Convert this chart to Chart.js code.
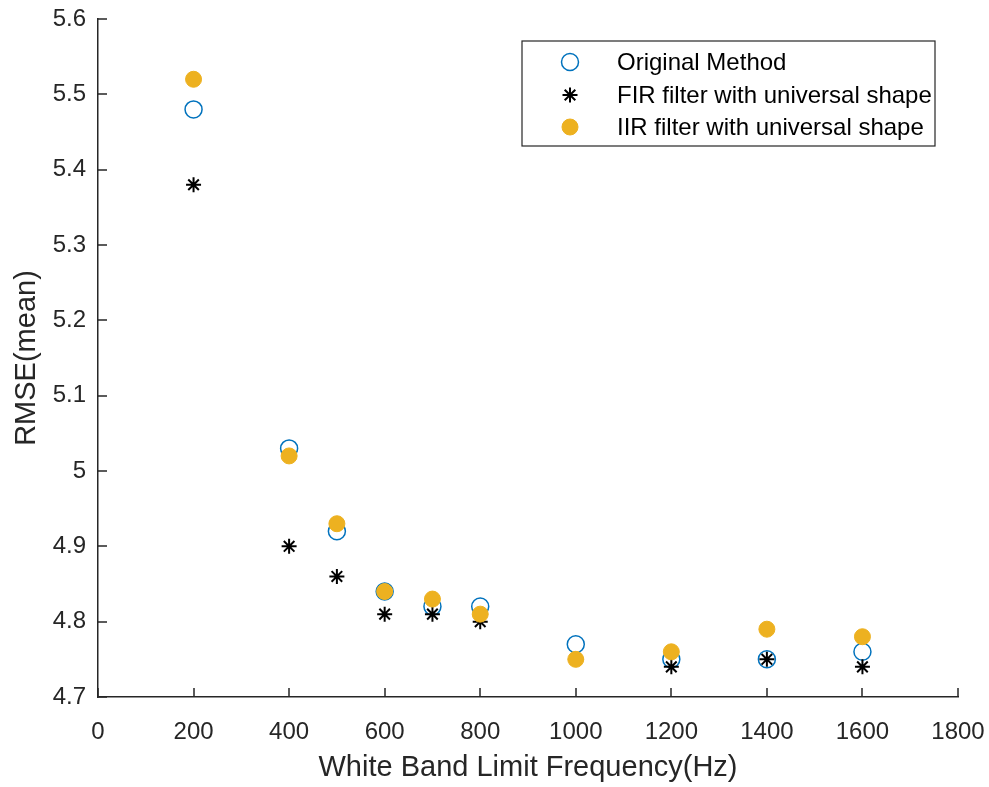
<!DOCTYPE html>
<html>
<head>
<meta charset="utf-8">
<script src="https://cdn.jsdelivr.net/npm/chart.js@4/dist/chart.umd.min.js"></script>
<style>
  html, body { margin: 0; padding: 0; background: #fff; }
  #wrap { width: 989px; height: 787px; position: relative; }
</style>
</head>
<body>
<div id="wrap"><canvas id="c"></canvas></div>
<script>
const freqs = [200, 400, 500, 600, 700, 800, 1000, 1200, 1400, 1600];
const originalMethod = [5.48, 5.03, 4.92, 4.84, 4.82, 4.82, 4.77, 4.75, 4.75, 4.76];
const firUniversal = [5.38, 4.90, 4.86, 4.81, 4.81, 4.80, 4.75, 4.74, 4.75, 4.74];
const iirUniversal = [5.52, 5.02, 4.93, 4.84, 4.83, 4.81, 4.75, 4.76, 4.79, 4.78];
const seriesNames = ['Original Method', 'FIR filter with universal shape', 'IIR filter with universal shape'];
const xTicks = [0, 200, 400, 600, 800, 1000, 1200, 1400, 1600, 1800];
const xTickLabels = ['0', '200', '400', '600', '800', '1000', '1200', '1400', '1600', '1800'];
const yTicks = [4.7, 4.8, 4.9, 5.0, 5.1, 5.2, 5.3, 5.4, 5.5, 5.6];
const yTickLabels = ['4.7', '4.8', '4.9', '5', '5.1', '5.2', '5.3', '5.4', '5.5', '5.6'];
const xTitle = 'White Band Limit Frequency(Hz)';
const yTitle = 'RMSE(mean)';

const FONT = "'Liberation Sans', Arial, Helvetica, sans-serif";
const AXIS_COLOR = '#262626';
const BLUE = '#0072BD';
const GOLD = '#EDB120';

const toPts = arr => freqs.map((f, i) => ({ x: f, y: arr[i] }));

const markerStyles = [
  { style: 'circle', fill: 'rgba(0,0,0,0)', stroke: BLUE, width: 1.5, r: 8.5 },
  { style: 'star', fill: '#000', stroke: '#000', width: 2, r: 7.5 },
  { style: 'circle', fill: GOLD, stroke: GOLD, width: 1, r: 8 }
];

function drawMarker(ctx, m, x, y) {
  ctx.save();
  ctx.lineWidth = m.width;
  ctx.strokeStyle = m.stroke;
  ctx.fillStyle = m.fill;
  if (m.style === 'circle') {
    ctx.beginPath();
    ctx.arc(x, y, m.r, 0, Math.PI * 2);
    ctx.fill();
    ctx.stroke();
  } else {
    const r = m.r, d = r * Math.SQRT1_2;
    ctx.beginPath();
    ctx.moveTo(x - r, y); ctx.lineTo(x + r, y);
    ctx.moveTo(x, y - r); ctx.lineTo(x, y + r);
    ctx.moveTo(x - d, y - d); ctx.lineTo(x + d, y + d);
    ctx.moveTo(x - d, y + d); ctx.lineTo(x + d, y - d);
    ctx.stroke();
  }
  ctx.restore();
}

const inwardTicks = {
  id: 'inwardTicks',
  afterDatasetsDraw(chart) {
    const { ctx, chartArea, scales } = chart;
    const len = 9;
    ctx.save();
    ctx.strokeStyle = AXIS_COLOR;
    ctx.lineWidth = 1.5;
    ctx.beginPath();
    xTicks.forEach(v => {
      const px = Math.round(scales.x.getPixelForValue(v));
      ctx.moveTo(px, chartArea.bottom);
      ctx.lineTo(px, chartArea.bottom - len);
    });
    yTicks.forEach(v => {
      const py = Math.round(scales.y.getPixelForValue(v));
      ctx.moveTo(chartArea.left, py);
      ctx.lineTo(chartArea.left + len, py);
    });
    ctx.stroke();
    ctx.restore();
  }
};

const boxLegend = {
  id: 'boxLegend',
  afterDraw(chart) {
    const { ctx, chartArea } = chart;
    const w = 413, h = 105;
    const right = chartArea.right - 23;
    const left = right - w;
    const top = chartArea.top + 22;
    ctx.save();
    ctx.fillStyle = '#fff';
    ctx.fillRect(left, top, w, h);
    ctx.strokeStyle = AXIS_COLOR;
    ctx.lineWidth = 1.2;
    ctx.strokeRect(left, top, w, h);
    ctx.font = '24px ' + FONT;
    ctx.fillStyle = '#000';
    ctx.textBaseline = 'middle';
    ctx.textAlign = 'left';
    const rowY = [21, 54, 86];
    seriesNames.forEach((name, i) => {
      const y = top + rowY[i];
      drawMarker(ctx, markerStyles[i], left + 48, y);
      ctx.fillText(name, left + 95, y + 1);
    });
    ctx.restore();
  }
};

new Chart(document.getElementById('c'), {
  type: 'scatter',
  data: {
    datasets: [
      {
        label: seriesNames[0], data: toPts(originalMethod), order: 3,
        pointStyle: 'circle', pointRadius: 8.5, pointHoverRadius: 8.5,
        backgroundColor: 'rgba(0,0,0,0)', borderColor: BLUE, borderWidth: 1.5
      },
      {
        label: seriesNames[1], data: toPts(firUniversal), order: 2,
        pointStyle: 'star', pointRadius: 7.5, pointHoverRadius: 7.5,
        backgroundColor: '#000', borderColor: '#000', borderWidth: 2
      },
      {
        label: seriesNames[2], data: toPts(iirUniversal), order: 1,
        pointStyle: 'circle', pointRadius: 8, pointHoverRadius: 8,
        backgroundColor: GOLD, borderColor: GOLD, borderWidth: 1
      }
    ]
  },
  options: {
    responsive: true,
    maintainAspectRatio: false,
    animation: false,
    layout: { padding: { left: 0, top: 19, right: 31, bottom: 0 } },
    plugins: { legend: { display: false }, tooltip: { enabled: false } },
    scales: {
      x: {
        type: 'linear', min: 0, max: 1800,
        afterBuildTicks: s => { s.ticks = xTicks.map(v => ({ value: v })); },
        afterFit: s => { s.height = 90; s.paddingLeft = 0; s.paddingRight = 0; },
        grid: { display: false, drawTicks: false },
        border: { display: true, color: AXIS_COLOR, width: 1.5 },
        ticks: {
          color: AXIS_COLOR, font: { family: FONT, size: 24 }, padding: 21, maxRotation: 0, autoSkip: false,
          callback: (v, i) => xTickLabels[i]
        },
        title: { display: true, text: xTitle, color: AXIS_COLOR, font: { family: FONT, size: 29 }, padding: { top: 0, bottom: 2 } }
      },
      y: {
        type: 'linear', min: 4.7, max: 5.6,
        afterBuildTicks: s => { s.ticks = yTicks.map(v => ({ value: v })); },
        afterFit: s => { s.width = 98; s.paddingTop = 0; s.paddingBottom = 0; },
        grid: { display: false, drawTicks: false },
        border: { display: true, color: AXIS_COLOR, width: 1.5 },
        ticks: {
          color: AXIS_COLOR, font: { family: FONT, size: 24 }, padding: 12, autoSkip: false,
          callback: (v, i) => yTickLabels[i]
        },
        title: { display: true, text: yTitle, color: AXIS_COLOR, font: { family: FONT, size: 29 }, padding: { top: 10, bottom: 0 } }
      }
    }
  },
  plugins: [inwardTicks, boxLegend]
});
</script>
</body>
</html>
